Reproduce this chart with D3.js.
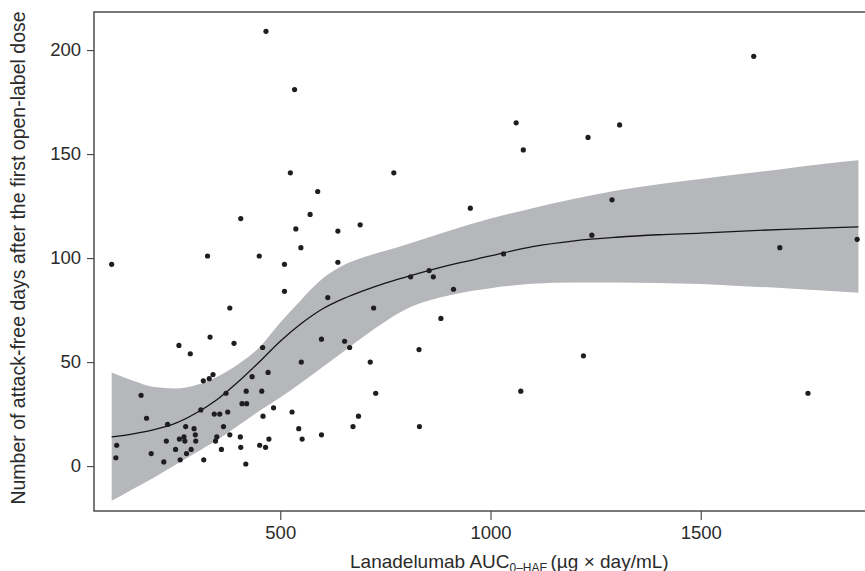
<!DOCTYPE html>
<html>
<head>
<meta charset="utf-8">
<script src="https://cdnjs.cloudflare.com/ajax/libs/d3/7.8.5/d3.min.js"></script>
<style>
  body { margin: 0; background: #fff; }
  text { font-family: "Liberation Sans", Arial, sans-serif; fill: #2b2b2b; }
</style>
</head>
<body>
<div class="graph"></div>
<script>
// observed patients: AUC (x) and attack-free days (y)
var aucValues = [466, 534, 524, 589, 406, 571, 537, 637, 690, 549,
  99, 327, 450, 510, 637, 510, 380, 613, 722, 333,
  259, 286, 390, 458, 598, 653, 665, 550, 714, 727,
  317, 331, 340, 433, 471, 371, 419, 456, 169, 409,
  420, 311, 343, 356, 375, 484, 528, 459, 686, 182,
  232, 275, 295, 298, 365, 544, 673, 111, 109, 193,
  229, 260, 271, 273, 299, 251, 288, 277, 262, 223,
  318, 349, 346, 360, 380, 405, 406, 418, 451, 465,
  473, 552, 598, 1031, 810, 854, 864, 912, 882, 830,
  1221, 1072, 831, 1626, 1688, 1872, 1061, 1307, 1232, 1078,
  770, 952, 1289, 1241, 1755];
var freeDays = [209, 181, 141, 132, 119, 121, 114, 113, 116, 105,
  97, 101, 101, 97, 98, 84, 76, 81, 76, 62,
  58, 54, 59, 57, 61, 60, 57, 50, 50, 35,
  41, 42, 44, 43, 45, 35, 36, 36, 34, 30,
  30, 27, 25, 25, 26, 28, 26, 24, 24, 23,
  20, 19, 18, 15, 19, 18, 19, 10, 4, 6,
  12, 13, 14, 12, 12, 8, 8, 6, 3, 2,
  3, 14, 12, 8, 15, 14, 9, 1, 10, 9,
  13, 13, 15, 102, 91, 94, 91, 85, 71, 56,
  53, 36, 19, 197, 105, 109, 165, 164, 158, 152,
  141, 124, 128, 111, 35];

// smooth fit and its confidence band
var fitAuc = [99, 150, 200, 250, 300, 350, 400, 450, 500, 550, 600, 650, 700,
  750, 800, 900, 1000, 1100, 1200, 1300, 1400, 1500, 1600, 1700, 1800, 1875];
var fitMid = [14, 15.5, 17.5, 20.5, 25.5, 32, 40.5, 50, 60, 68.5, 75.5, 80.5, 84.5,
  88, 91, 96.5, 101, 105.5, 108.3, 110, 111.2, 112, 113, 113.8, 114.5, 115];
var fitUpper = [45, 41, 38, 37.3, 39, 43, 49, 57, 69, 80, 90, 96.5, 100.5,
  103.5, 106.5, 113, 119, 124, 128.5, 132.5, 135.5, 138, 140.5, 143, 145.5, 147];
var fitLower = [-16.7, -11, -5.5, 0.5, 6.5, 12.5, 19.5, 26.5, 33, 40, 47.5, 55, 62.5,
  69.5, 75.5, 82, 85.5, 87.6, 88.3, 88.3, 88, 87.5, 86.5, 85.5, 84.3, 83.3];

var xTicks = [500, 1000, 1500];
var yTicks = [0, 50, 100, 150, 200];

var width = 865, height = 571;
var margin = {top: 12, right: -1, bottom: 60, left: 94};

var svg = d3.select(".graph").append("svg")
    .attr("width", width)
    .attr("height", height);

var x = d3.scaleLinear().domain([57, 1893]).range([margin.left, width - margin.right]);
var y = d3.scaleLinear().domain([-21.6, 218.3]).range([height - margin.bottom, margin.top]);

var fit = fitAuc.map(function(a, i) {
  return {x: a, mid: fitMid[i], lo: fitLower[i], hi: fitUpper[i]};
});

// band
svg.append("path")
    .datum(fit)
    .attr("fill", "#b6b7bb")
    .attr("d", d3.area()
      .curve(d3.curveMonotoneX)
      .x(function(d) { return x(d.x); })
      .y0(function(d) { return y(d.lo); })
      .y1(function(d) { return y(d.hi); }));

svg.append("path")
    .datum(fit)
    .attr("fill", "none")
    .attr("stroke", "#151515")
    .attr("stroke-width", 1.3)
    .attr("d", d3.line()
      .curve(d3.curveMonotoneX)
      .x(function(d) { return x(d.x); })
      .y(function(d) { return y(d.mid); }));

svg.selectAll(".dot")
    .data(aucValues)
    .enter().append("circle")
      .attr("class", "dot")
      .attr("cx", function(d) { return x(d); })
      .attr("cy", function(d, i) { return y(freeDays[i]); })
      .attr("r", 2.6)
      .attr("fill", "#1e1e1e");

// frame
svg.append("rect")
    .attr("x", margin.left)
    .attr("y", margin.top)
    .attr("width", width - margin.right - margin.left)
    .attr("height", height - margin.bottom - margin.top)
    .attr("fill", "none")
    .attr("stroke", "#4d4d4d")
    .attr("stroke-width", 1.5);

var xAxis = svg.append("g")
    .attr("transform", "translate(0," + (height - margin.bottom) + ")")
    .call(d3.axisBottom(x).tickValues(xTicks).tickSize(9).tickPadding(6).tickFormat(d3.format("d")));

var yAxis = svg.append("g")
    .attr("transform", "translate(" + margin.left + ",0)")
    .call(d3.axisLeft(y).tickValues(yTicks).tickSize(7).tickPadding(6).tickFormat(d3.format("d")));

[xAxis, yAxis].forEach(function(g) {
  g.select(".domain").remove();
  g.selectAll(".tick line").attr("stroke", "#4d4d4d").attr("stroke-width", 1.2);
  g.selectAll(".tick text")
    .style("font-family", "'Liberation Sans', Arial, sans-serif")
    .style("font-size", "18.5px")
    .attr("fill", "#2b2b2b");
});

// axis titles
var xt = svg.append("text")
    .attr("x", 350)
    .attr("y", 568)
    .style("font-size", "19px");
xt.append("tspan").text("Lanadelumab AUC");
xt.append("tspan").attr("dy", 4).style("font-size", "12px").text("0\u2013HAE");
xt.append("tspan").attr("dy", -4).attr("dx", 3).text("(\u00b5g \u00d7 day/mL)");

svg.append("text")
    .attr("transform", "translate(25," + 258 + ") rotate(-90)")
    .attr("text-anchor", "middle")
    .style("font-size", "19.5px")
    .text("Number of attack-free days after the first open-label dose");
</script>
</body>
</html>
